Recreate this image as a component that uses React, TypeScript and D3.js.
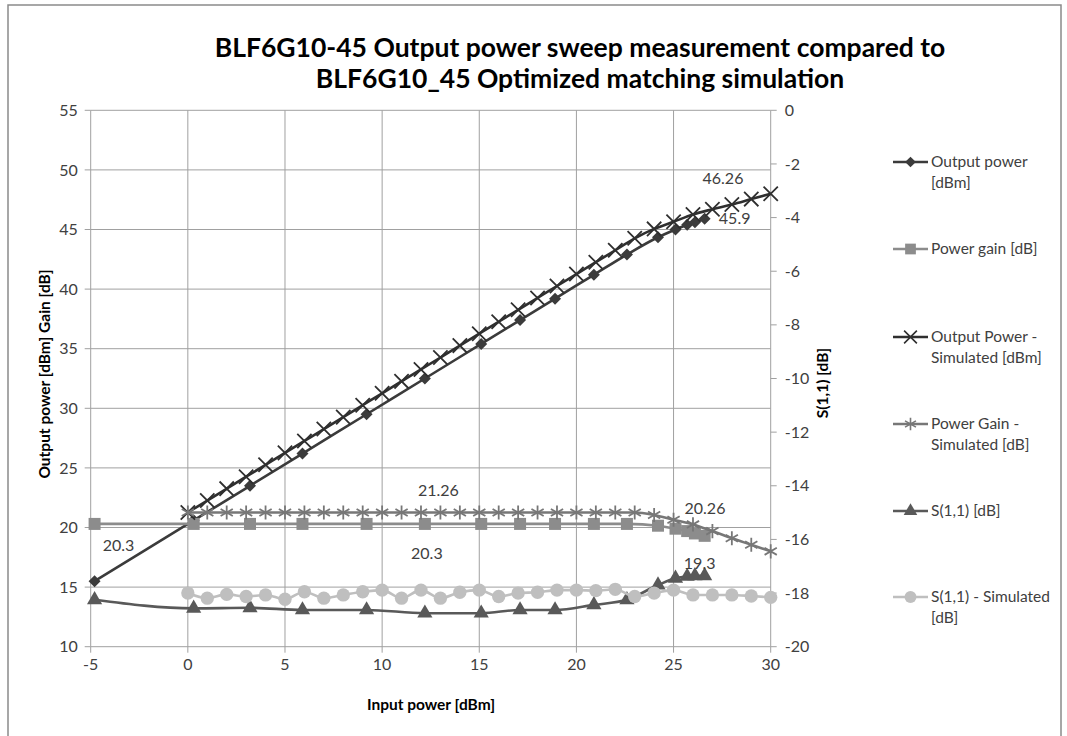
import * as d3 from 'd3';

// measured sweep
const measInput = [-4.8, 0.3, 3.2, 5.9, 9.2, 12.2, 15.1, 17.1, 18.9, 20.9, 22.6, 24.2, 25.1, 25.7, 26.1, 26.6];
const measOutput = [15.5, 20.6, 23.5, 26.2, 29.5, 32.5, 35.4, 37.4, 39.2, 41.2, 42.9, 44.35, 45.0, 45.4, 45.6, 45.9];
const measGain = [20.3, 20.3, 20.3, 20.3, 20.3, 20.3, 20.3, 20.3, 20.3, 20.3, 20.3, 20.15, 19.9, 19.7, 19.5, 19.3];
const measS11 = [-18.25, -18.57, -18.55, -18.63, -18.63, -18.75, -18.75, -18.63, -18.63, -18.44, -18.25, -17.7, -17.45, -17.38, -17.36, -17.36];

// simulation
const simInput = [0, 1, 2, 3, 4, 5, 6, 7, 8, 9, 10, 11, 12, 13, 14, 15, 16, 17, 18, 19, 20, 21, 22, 23, 24, 25, 26, 27, 28, 29, 30];
const simOutput = [21.26, 22.26, 23.26, 24.26, 25.26, 26.26, 27.26, 28.26, 29.26, 30.26, 31.26, 32.26, 33.26, 34.26, 35.26, 36.26, 37.26, 38.26, 39.26, 40.26, 41.26, 42.26, 43.26, 44.26, 45.05, 45.65, 46.26, 46.7, 47.1, 47.55, 48.0];
const simGain = [21.26, 21.26, 21.26, 21.26, 21.26, 21.26, 21.26, 21.26, 21.26, 21.26, 21.26, 21.26, 21.26, 21.26, 21.26, 21.26, 21.26, 21.26, 21.26, 21.26, 21.26, 21.26, 21.26, 21.26, 21.05, 20.65, 20.26, 19.7, 19.1, 18.55, 18.0];
const simS11 = [-18.0, -18.19, -18.05, -18.13, -18.07, -18.23, -17.95, -18.19, -18.07, -17.95, -17.89, -18.19, -17.89, -18.19, -17.97, -17.89, -18.13, -18.0, -17.97, -17.89, -17.89, -17.91, -17.86, -18.13, -18.0, -17.89, -18.07, -18.07, -18.07, -18.11, -18.16];

const xTicks = [-5, 0, 5, 10, 15, 20, 25, 30];
const yLeftTicks = [10, 15, 20, 25, 30, 35, 40, 45, 50, 55];
const yRightTicks = [-20, -18, -16, -14, -12, -10, -8, -6, -4, -2, 0];

const titleLines = [
  'BLF6G10-45 Output power sweep measurement compared to',
  'BLF6G10_45 Optimized matching simulation',
];

const legendLabels = [
  ['Output power', '[dBm]'],
  ['Power gain [dB]'],
  ['Output Power -', 'Simulated [dBm]'],
  ['Power Gain -', 'Simulated [dB]'],
  ['S(1,1) [dB]'],
  ['S(1,1)  - Simulated', '[dB]'],
];

// data labels: [series index, point index, text]
const dataLabels: [number, number, string][] = [
  [2, 26, '46.26'],
  [0, 15, '45.9'],
  [3, 13, '21.26'],
  [1, 0, '20.3'],
  [1, 5, '20.3'],
  [3, 26, '20.26'],
  [1, 15, '19.3'],
];
const labelOffsets: [number, number][] = [
  [30, -36],
  [30, 0],
  [-2, -22],
  [24, 21],
  [2, 29],
  [12, -16],
  [-5, 28],
];

const FONT = 'Lato, "Open Sans", sans-serif';

export default function App() {
  const W = 1067;
  const H = 736;
  const left = 90.7;
  const right = 770.7;
  const top = 110.3;
  const bottom = 646.7;

  const x = d3.scaleLinear().domain([-5, 30]).range([left, right]);
  const yL = d3.scaleLinear().domain([10, 55]).range([bottom, top]);
  const yR = d3.scaleLinear().domain([-20, 0]).range([bottom, top]);

  // rot = 45 turns the square symbol into the Excel-style diamond
  const series = [
    { xs: measInput, ys: measOutput, y: yL, color: '#3b3b3b', sym: d3.symbolSquare, size: 72, rot: 45, stroke: false },
    { xs: measInput, ys: measGain, y: yL, color: '#8c8c8c', sym: d3.symbolSquare, size: 144, rot: 0, stroke: false },
    { xs: simInput, ys: simOutput, y: yL, color: '#2f2f2f', sym: d3.symbolX, size: 135, rot: 0, stroke: true },
    { xs: simInput, ys: simGain, y: yL, color: '#777777', sym: d3.symbolAsterisk, size: 140, rot: 0, stroke: true },
    { xs: measInput, ys: measS11, y: yR, color: '#595959', sym: d3.symbolTriangle, size: 100, rot: 0, stroke: false },
    { xs: simInput, ys: simS11, y: yR, color: '#bfbfbf', sym: d3.symbolCircle, size: 140, rot: 0, stroke: false },
  ];

  const gridColor = '#a0a0a0';
  const textColor = '#404040';

  return (
    <svg width={W} height={H} viewBox={`0 0 ${W} ${H}`} style={{ display: 'block', position: 'absolute', left: 0, top: 0, background: '#fff' }}>
      <rect x={8} y={5} width={1053} height={740} fill="#fff" stroke="#8a8a8a" strokeWidth={1.5} />

      {titleLines.map((t, i) => (
        <text key={i} x={580} y={57 + i * 31} textAnchor="middle" fontFamily={FONT} fontWeight="bold" fontSize={26.5} fill="#000">
          {t}
        </text>
      ))}

      {/* grid */}
      {yLeftTicks.map((v) => (
        <line key={'h' + v} x1={left} x2={right} y1={yL(v)} y2={yL(v)} stroke={gridColor} strokeWidth={1} />
      ))}
      {xTicks.map((v) => (
        <line key={'v' + v} x1={x(v)} x2={x(v)} y1={top} y2={bottom} stroke={gridColor} strokeWidth={1} />
      ))}

      {/* axes ticks */}
      {yLeftTicks.map((v) => (
        <g key={'lt' + v}>
          <line x1={left - 6} x2={left} y1={yL(v)} y2={yL(v)} stroke={gridColor} />
          <text x={left - 13} y={yL(v)} dy="0.35em" textAnchor="end" fontFamily={FONT} fontSize={16} fill={textColor}>{v}</text>
        </g>
      ))}
      {yRightTicks.map((v) => (
        <g key={'rt' + v}>
          <line x1={right} x2={right + 6} y1={yR(v)} y2={yR(v)} stroke={gridColor} />
          <text x={right + 14} y={yR(v)} dy="0.35em" textAnchor="start" fontFamily={FONT} fontSize={16} fill={textColor}>{v}</text>
        </g>
      ))}
      {xTicks.map((v) => (
        <g key={'bt' + v}>
          <line x1={x(v)} x2={x(v)} y1={bottom} y2={bottom + 6} stroke={gridColor} />
          <text x={x(v)} y={bottom + 23} textAnchor="middle" fontFamily={FONT} fontSize={16} fill={textColor}>{v}</text>
        </g>
      ))}

      {/* axis titles */}
      <text x={431} y={710} textAnchor="middle" fontFamily={FONT} fontWeight="bold" fontSize={15.5} fill="#000">Input power [dBm]</text>
      <text transform={`translate(50,${374}) rotate(-90)`} textAnchor="middle" fontFamily={FONT} fontWeight="bold" fontSize={15.5} fill="#000">
        Output power [dBm] Gain [dB]
      </text>
      <text transform={`translate(828,${383}) rotate(-90)`} textAnchor="middle" fontFamily={FONT} fontWeight="bold" fontSize={15.5} fill="#000">
        S(1,1) [dB]
      </text>

      {/* series */}
      {series.map((s, si) => {
        const pts = s.xs.map((xv, i) => [x(xv), s.y(s.ys[i])] as [number, number]);
        const line = d3.line().curve(d3.curveMonotoneX)(pts) || '';
        const path = d3.symbol().type(s.sym).size(s.size)() || '';
        return (
          <g key={'s' + si}>
            <path d={line} fill="none" stroke={s.color} strokeWidth={2.6} />
            {pts.map((p, i) => (
              <path
                key={i}
                d={path}
                transform={`translate(${p[0]},${p[1]}) rotate(${s.rot})`}
                fill={s.stroke ? 'none' : s.color}
                stroke={s.color}
                strokeWidth={s.stroke ? 1.8 : 0}
              />
            ))}
          </g>
        );
      })}

      {/* data labels */}
      {dataLabels.map(([si, pi, txt], k) => {
        const s = series[si];
        const px = x(s.xs[pi]);
        const py = s.y(s.ys[pi]);
        return (
          <text key={'dl' + k} x={px + labelOffsets[k][0]} y={py + labelOffsets[k][1]} dy="0.35em" textAnchor="middle" fontFamily={FONT} fontSize={16} fill={textColor}>
            {txt}
          </text>
        );
      })}

      {/* legend */}
      {legendLabels.map((lines, i) => {
        const s = series[i];
        const ys = [162, 249, 337, 424, 511, 597];
        const ly = ys[i];
        const path = d3.symbol().type(s.sym).size(s.size * 0.8)() || '';
        return (
          <g key={'lg' + i}>
            <line x1={893} x2={928} y1={ly} y2={ly} stroke={s.color} strokeWidth={2.6} />
            <path d={path} transform={`translate(910.5,${ly}) rotate(${s.rot})`} fill={s.stroke ? 'none' : s.color} stroke={s.color} strokeWidth={s.stroke ? 1.6 : 0} />
            {lines.map((t, j) => (
              <text key={j} x={931} y={ly + j * 21} dy="0.35em" fontFamily={FONT} fontSize={15.5} fill={textColor}>{t}</text>
            ))}
          </g>
        );
      })}
    </svg>
  );
}
